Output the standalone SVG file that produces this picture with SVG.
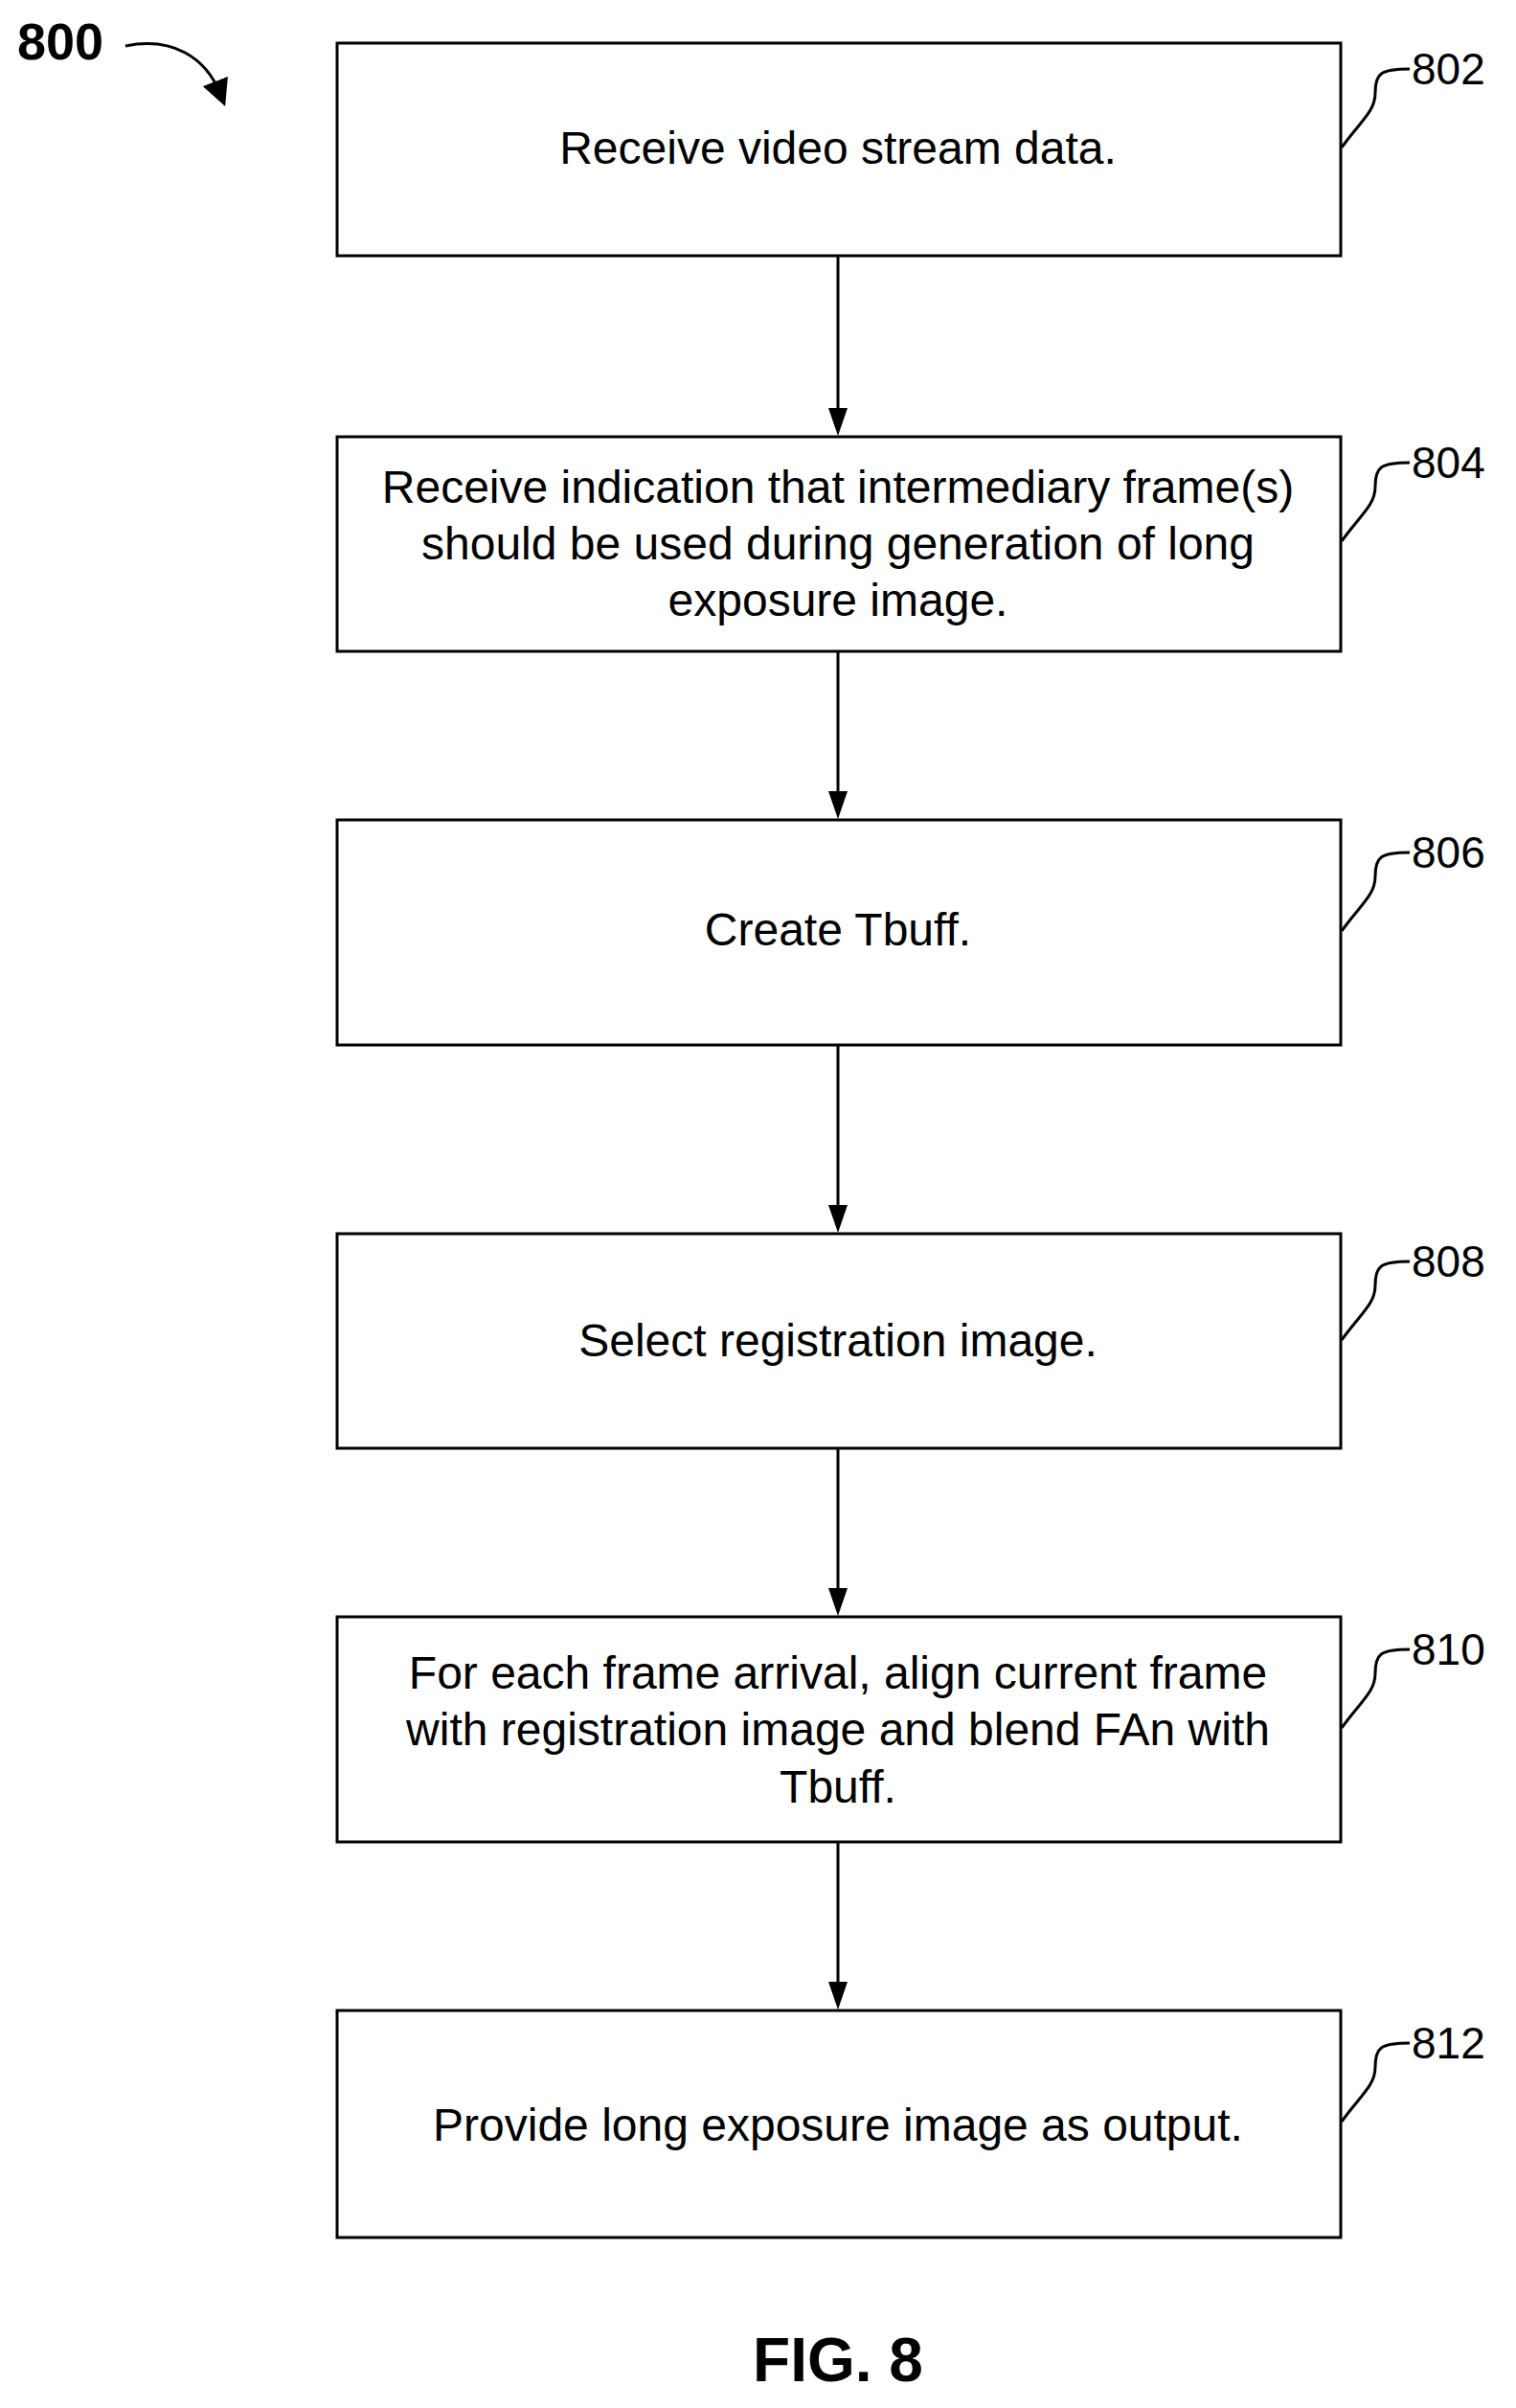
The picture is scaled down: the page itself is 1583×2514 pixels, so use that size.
<svg xmlns="http://www.w3.org/2000/svg" width="1583" height="2514" viewBox="0 0 1583 2514">
<style>
.box{fill:#fff;stroke:#000;stroke-width:3}
.t{font-family:"Liberation Sans",Arial,sans-serif;font-size:48px;text-anchor:middle;fill:#000}
.ref{font-family:"Liberation Sans",Arial,sans-serif;font-size:46px;fill:#000}
.lead{fill:none;stroke:#000;stroke-width:3}
.conn{stroke:#000;stroke-width:3;fill:none}
</style>
<defs>
<marker id="ah2" viewBox="0 0 10 10" refX="5" refY="5" markerWidth="28" markerHeight="28" orient="auto" markerUnits="userSpaceOnUse"><path d="M0,0 L10,5 L0,10 Z" fill="#000"/></marker>
</defs>
<rect width="1583" height="2514" fill="#fff"/>
<g id="label800">
<text x="18" y="62" font-family="'Liberation Sans',Arial,sans-serif" font-size="54" font-weight="bold">800</text>
<path d="M131,48 C180,38 215,60 230,98" class="lead" marker-end="url(#ah2)"/>
</g>
<g id="connectors">
<line x1="875" y1="268" x2="875" y2="430" class="conn"/><path d="M865,426 L885,426 L875,455 Z"/>
<line x1="875" y1="681" x2="875" y2="830" class="conn"/><path d="M865,826 L885,826 L875,855 Z"/>
<line x1="875" y1="1092" x2="875" y2="1262" class="conn"/><path d="M865,1258 L885,1258 L875,1287 Z"/>
<line x1="875" y1="1513" x2="875" y2="1662" class="conn"/><path d="M865,1658 L885,1658 L875,1687 Z"/>
<line x1="875" y1="1924" x2="875" y2="2073" class="conn"/><path d="M865,2069 L885,2069 L875,2098 Z"/>
</g>
<g id="n802">
<rect class="box" x="352" y="45" width="1048" height="222"/>
<text class="t" x="875" y="171">Receive video stream data.</text>
<path class="lead" d="M1401,154 C1420,127 1436,117 1436,97 C1436,77 1441,72 1472,72"/>
<text class="ref" x="1474" y="88">802</text>
</g>
<g id="n804">
<rect class="box" x="352" y="456" width="1048" height="224"/>
<text class="t" x="875" y="525">Receive indication that intermediary frame(s)</text>
<text class="t" x="875" y="584">should be used during generation of long</text>
<text class="t" x="875" y="643">exposure image.</text>
<path class="lead" d="M1401,565 C1420,538 1436,528 1436,508 C1436,488 1441,483 1472,483"/>
<text class="ref" x="1474" y="499">804</text>
</g>
<g id="n806">
<rect class="box" x="352" y="856" width="1048" height="235"/>
<text class="t" x="875" y="987">Create Tbuff.</text>
<path class="lead" d="M1401,972 C1420,945 1436,935 1436,915 C1436,895 1441,890 1472,890"/>
<text class="ref" x="1474" y="906">806</text>
</g>
<g id="n808">
<rect class="box" x="352" y="1288" width="1048" height="224"/>
<text class="t" x="875" y="1416">Select registration image.</text>
<path class="lead" d="M1401,1399 C1420,1372 1436,1362 1436,1342 C1436,1322 1441,1317 1472,1317"/>
<text class="ref" x="1474" y="1333">808</text>
</g>
<g id="n810">
<rect class="box" x="352" y="1688" width="1048" height="235"/>
<text class="t" x="875" y="1763">For each frame arrival, align current frame</text>
<text class="t" x="875" y="1822">with registration image and blend FAn with</text>
<text class="t" x="875" y="1882">Tbuff.</text>
<path class="lead" d="M1401,1804 C1420,1777 1436,1767 1436,1747 C1436,1727 1441,1722 1472,1722"/>
<text class="ref" x="1474" y="1738">810</text>
</g>
<g id="n812">
<rect class="box" x="352" y="2099" width="1048" height="237"/>
<text class="t" x="875" y="2235">Provide long exposure image as output.</text>
<path class="lead" d="M1401,2215 C1420,2188 1436,2178 1436,2158 C1436,2138 1441,2133 1472,2133"/>
<text class="ref" x="1474" y="2149">812</text>
</g>
<text x="875" y="2486" text-anchor="middle" font-family="'Liberation Sans',Arial,sans-serif" font-size="64" font-weight="bold">FIG. 8</text>
</svg>
